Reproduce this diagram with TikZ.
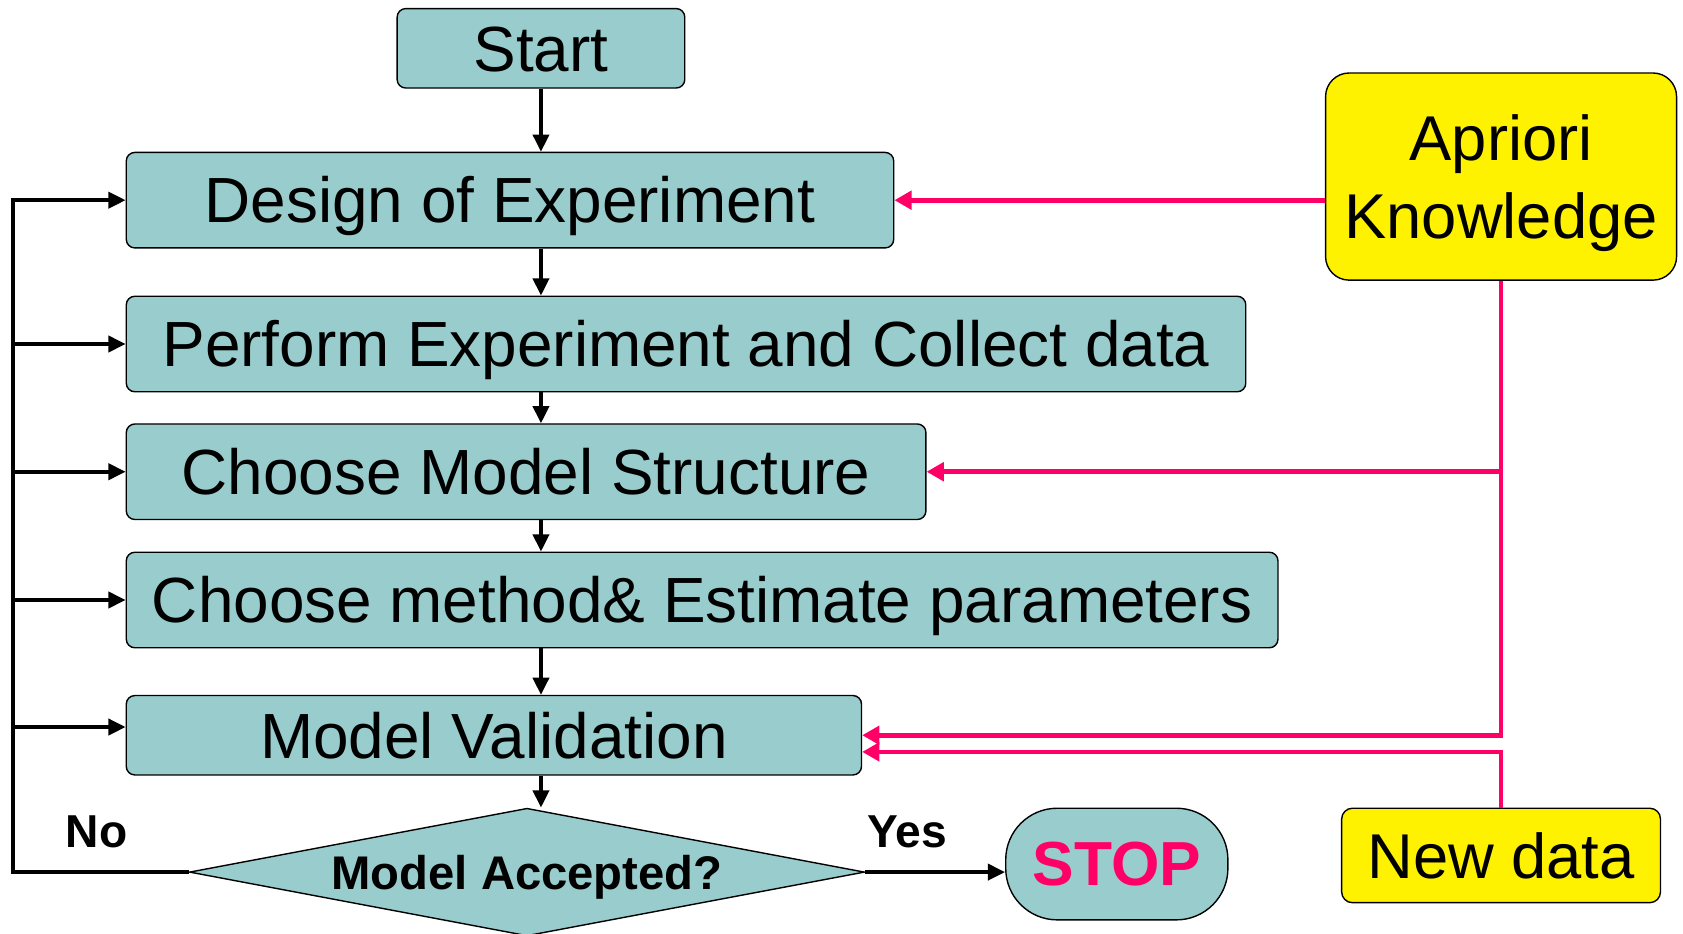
\documentclass[tikz,border=0pt]{standalone}
\usepackage{fontspec}
\setmainfont{Liberation Sans}
\usetikzlibrary{arrows.meta,positioning,shapes.geometric,calc}
\definecolor{boxteal}{HTML}{99CCCC}
\definecolor{flowpink}{HTML}{FF0066}
\tikzset{
  stepbox/.style={draw,line width=1.3pt,fill=boxteal,rounded corners=8pt,inner sep=0pt,minimum height=89pt,anchor=west,text height=42.5pt,text depth=0pt,font=\fontsize{59.5}{70}\selectfont},
  infobox/.style={draw,line width=1.3pt,fill=yellow,inner sep=0pt,align=center,text depth=0pt,font=\fontsize{59}{73}\selectfont},
  blk/.style={line width=3.4pt,-{Triangle[length=16pt,width=15pt]}},
  pnk/.style={line width=4.4pt,flowpink,-{Triangle[length=16pt,width=17pt]}},
  answer/.style={font=\bfseries\fontsize{43}{50}\selectfont}
}
\begin{document}
\begin{tikzpicture}[x=1pt,y=-1pt]
    \useasboundingbox (0,0) rectangle (1568,870);
    \node[stepbox,anchor=center,minimum width=268pt,minimum height=74pt] (start) at (504,45) {Start};
    \node[stepbox,minimum width=715pt] (doe) at (117,186.5) {Design of Experiment};
    \node[stepbox,minimum width=1043pt] (perf) at (117,320.5) {Perform Experiment and Collect data};
    \node[stepbox,minimum width=745pt] (struct) at (117,439.5) {Choose Model Structure};
    \node[stepbox,minimum width=1073pt] (est) at (117,559) {Choose method\& Estimate parameters};
    \node[stepbox,minimum width=685pt,minimum height=74pt] (valid) at (117,685) {Model Validation};
    \node[diamond,aspect=5.3,draw,line width=1.3pt,fill=boxteal,inner sep=0pt,minimum width=629pt,minimum height=119pt,text height=31.5pt,text depth=0pt,font=\bfseries\fontsize{44}{50}\selectfont] (accept) at (491,812.5) {Model Accepted?};
    \node[draw,line width=1.3pt,fill=boxteal,rounded corners=48pt,inner sep=0pt,minimum width=207pt,minimum height=104pt,text=flowpink,font=\bfseries\fontsize{58}{70}\selectfont] (stop) at (1040.5,805) {STOP};
    \node[infobox,rounded corners=22pt,minimum width=327pt,minimum height=193pt] (apriori) at (1398.5,164.5) {Apriori\\Knowledge};
    \node[infobox,rounded corners=10pt,minimum width=297pt,minimum height=88pt] (newdata) at (1398.5,797) {New data};
    \node[answer] (no) at (90,775) {No};
    \node[answer] (yes) at (845,775) {Yes};
    \coordinate (back) at (12,0);
    \coordinate (vlow) at ($(valid.east)+(0,15.5)$);
    \foreach \a/\b in {start/doe,doe/perf,perf/struct,struct/est,est/valid,valid/accept}
        {
            \draw[blk] (start |- \a.south) -- (start |- \b.north);
        }
    \draw[blk] (accept.west) -- (back |- accept.west) -- (back |- doe.west) -- (doe.west);
    \foreach \n in {perf,struct,est}
        {
            \draw[blk] (back |- \n.west) -- (\n.west);
        }
    \draw[blk] (back |- valid.north west) ++(0,30) -- ($(valid.north west)+(0,30)$);
    \draw[blk] (accept.east) -- (accept.east -| stop.west);
    \draw[pnk] (apriori.west |- doe.east) -- (doe.east);
    \draw[pnk] (apriori.south) -- (apriori.south |- valid.east) -- (valid.east);
    \draw[pnk] (apriori.south |- struct.east) -- (struct.east);
    \draw[pnk] (newdata.north) -- (newdata.north |- vlow) -- (vlow);
\end{tikzpicture}
\end{document}
